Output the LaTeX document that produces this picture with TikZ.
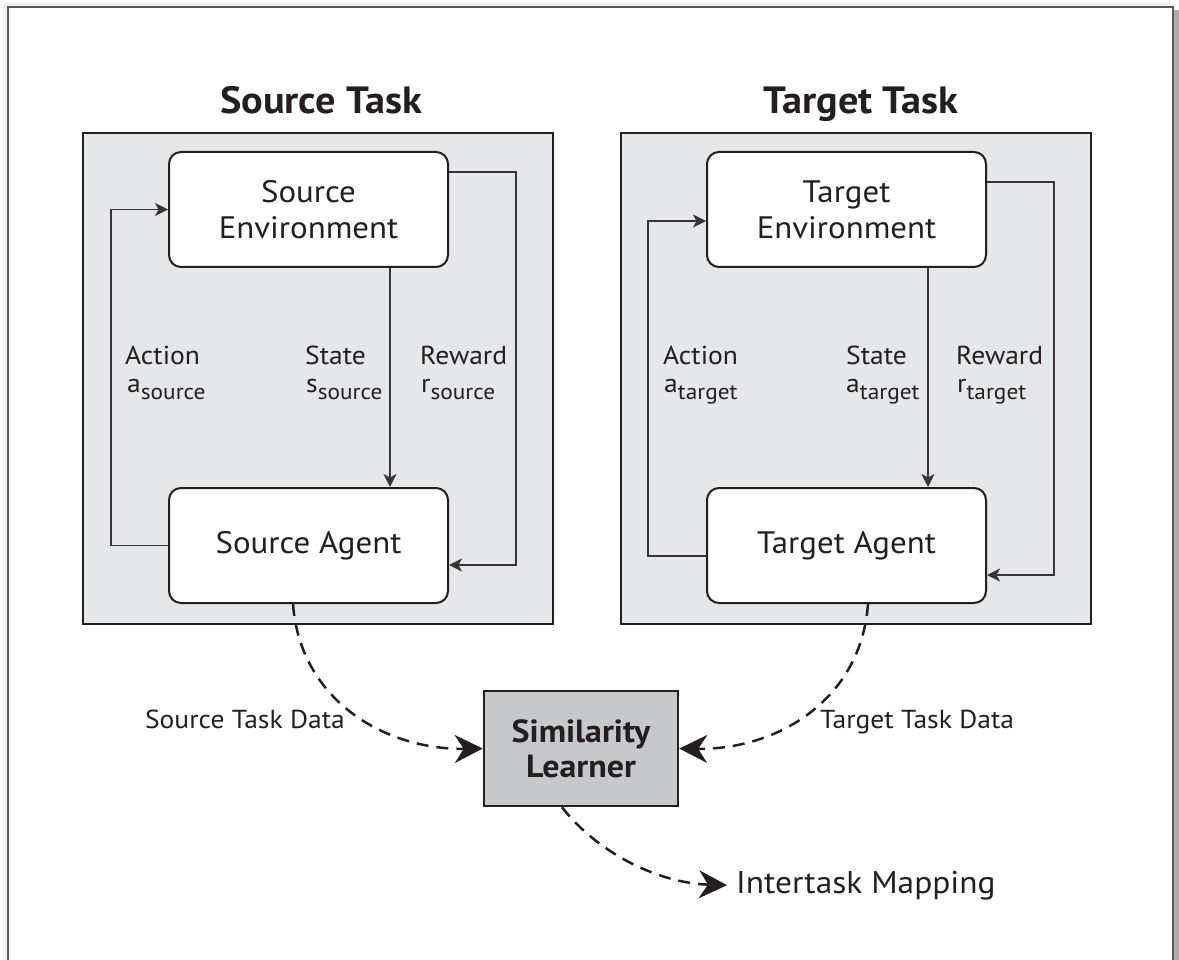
\documentclass[tikz,border=0pt]{standalone}
\usepackage{fontspec}
\setmainfont{PT Sans}[FakeStretch=1.06]
\usetikzlibrary{arrows.meta}
\definecolor{ink}{HTML}{231F20}
\definecolor{panelfill}{HTML}{E6E7E8}
\definecolor{simfill}{HTML}{C7C8CA}
\newcommand{\subtx}[1]{\raisebox{-7pt}{\fontsize{22}{22}\selectfont #1}}
\begin{document}
\begin{tikzpicture}[x=1pt,y=-1pt,
  panel/.style={draw=ink, fill=panelfill, line width=2.5pt, inner sep=0pt},
  rbox/.style={draw=ink, fill=white, line width=2pt, rounded corners=12pt, inner sep=0pt,
    align=center, text=ink, font=\fontsize{31}{36}\selectfont},
  simbox/.style={draw=ink, fill=simfill, line width=2.5pt, inner sep=0pt,
    align=center, text=ink, font=\bfseries\fontsize{32}{35}\selectfont},
  titletxt/.style={text=ink, font=\bfseries\fontsize{38}{40}\selectfont, inner sep=0pt, anchor=base},
  lbl/.style={text=ink, font=\fontsize{26}{28}\selectfont, inner sep=0pt, anchor=base west},
  datalbl/.style={text=ink, font=\fontsize{26}{28}\selectfont, inner sep=0pt},
  conn/.style={draw=ink!90, line width=1.2pt, -{Stealth[length=13pt,width=13pt,inset=3.5pt]}},
  dconn/.style={draw=ink, line width=2.5pt, dash pattern=on 12pt off 8pt,
    -{Stealth[length=28pt,width=28pt,inset=9pt]}}
]
\useasboundingbox (0,0) rectangle (1179,960);
% outer frame with shadow
\fill[gray!12] (3,3) rectangle (1173,7);
\fill[gray!12] (3,3) rectangle (8,960);
\fill[gray!65] (1173,10) rectangle (1179,960);
\draw[gray!70!black, line width=1.2pt] (8,962) -- (8,7) -- (1173,7) -- (1173,962);

% titles
\node[titletxt] (stitle) at (321,114) {Source Task};
\node[titletxt] (ttitle) at (861,114) {Target Task};

% panels
\node[panel, minimum width=470pt, minimum height=491pt] (spanel) at (318,378.5) {};
\node[panel, minimum width=470pt, minimum height=491pt] (tpanel) at (856,378.5) {};

% boxes
\node[rbox, minimum width=279pt, minimum height=115pt] (senv) at (308.5,209.5) {Source\\Environment};
\node[rbox, minimum width=279pt, minimum height=115pt] (sagent) at (308.5,545.5) {Source Agent};
\node[rbox, minimum width=279pt, minimum height=115pt] (tenv) at (846.5,209.5) {Target\\Environment};
\node[rbox, minimum width=279pt, minimum height=115pt] (tagent) at (846.5,545.5) {Target Agent};

% source connectors
\draw[conn] (sagent.west) -- ++(-57,0) |- (senv.west);
\draw[conn] ([xshift=81.5pt]senv.south) -- ([xshift=81.5pt]sagent.north);
\draw[conn] ([yshift=37.5pt]senv.east) -- ++(67,0) |- ([yshift=-19.5pt]sagent.east);
% target connectors
\draw[conn] ([yshift=-10.5pt]tagent.west) -- ++(-58,0) |- ([yshift=-11.5pt]tenv.west);
\draw[conn] ([xshift=81.5pt]tenv.south) -- ([xshift=81.5pt]tagent.north);
\draw[conn] ([yshift=27.5pt]tenv.east) -- ++(67,0) |- ([yshift=-29.5pt]tagent.east);

% source labels
\node[lbl] (sact) at (125,364) {Action};
\node[lbl] (sacts) at (127,392) {a\subtx{source}};
\node[lbl] (ssta) at (305,364) {State};
\node[lbl] (sstas) at (306,392) {s\subtx{source}};
\node[lbl] (srew) at (420,364) {Reward};
\node[lbl] (srews) at (421,392) {r\subtx{source}};
% target labels
\node[lbl] (tact) at (663,364) {Action};
\node[lbl] (tacts) at (664,392) {a\subtx{target}};
\node[lbl] (tsta) at (846,364) {State};
\node[lbl] (tstas) at (846,392) {a\subtx{target}};
\node[lbl] (trew) at (956,364) {Reward};
\node[lbl] (trews) at (957,392) {r\subtx{target}};

% similarity learner
\node[simbox, minimum width=194pt, minimum height=115pt] (sim) at (581,748.5) {Similarity\\Learner};

% data labels
\node[datalbl, anchor=base east] (sdata) at (345,728) {Source Task Data};
\node[datalbl, anchor=base west] (tdata) at (820,728) {Target Task Data};
\node[text=ink, font=\fontsize{31.5}{33}\selectfont, inner ysep=0pt, inner xsep=9pt, anchor=base west] (map) at (727,893) {Intertask Mapping};

% dashed connectors
\draw[dconn] ([xshift=-15.5pt]sagent.south) .. controls (300,700) and (385,750) .. (sim.west);
\draw[dconn] ([xshift=21.5pt]tagent.south) .. controls (861,700) and (777,750) .. (sim.east);
\draw[dconn] ([xshift=-19pt]sim.south) .. controls (595,850) and (655,883) .. (map.west);
\end{tikzpicture}
\end{document}
